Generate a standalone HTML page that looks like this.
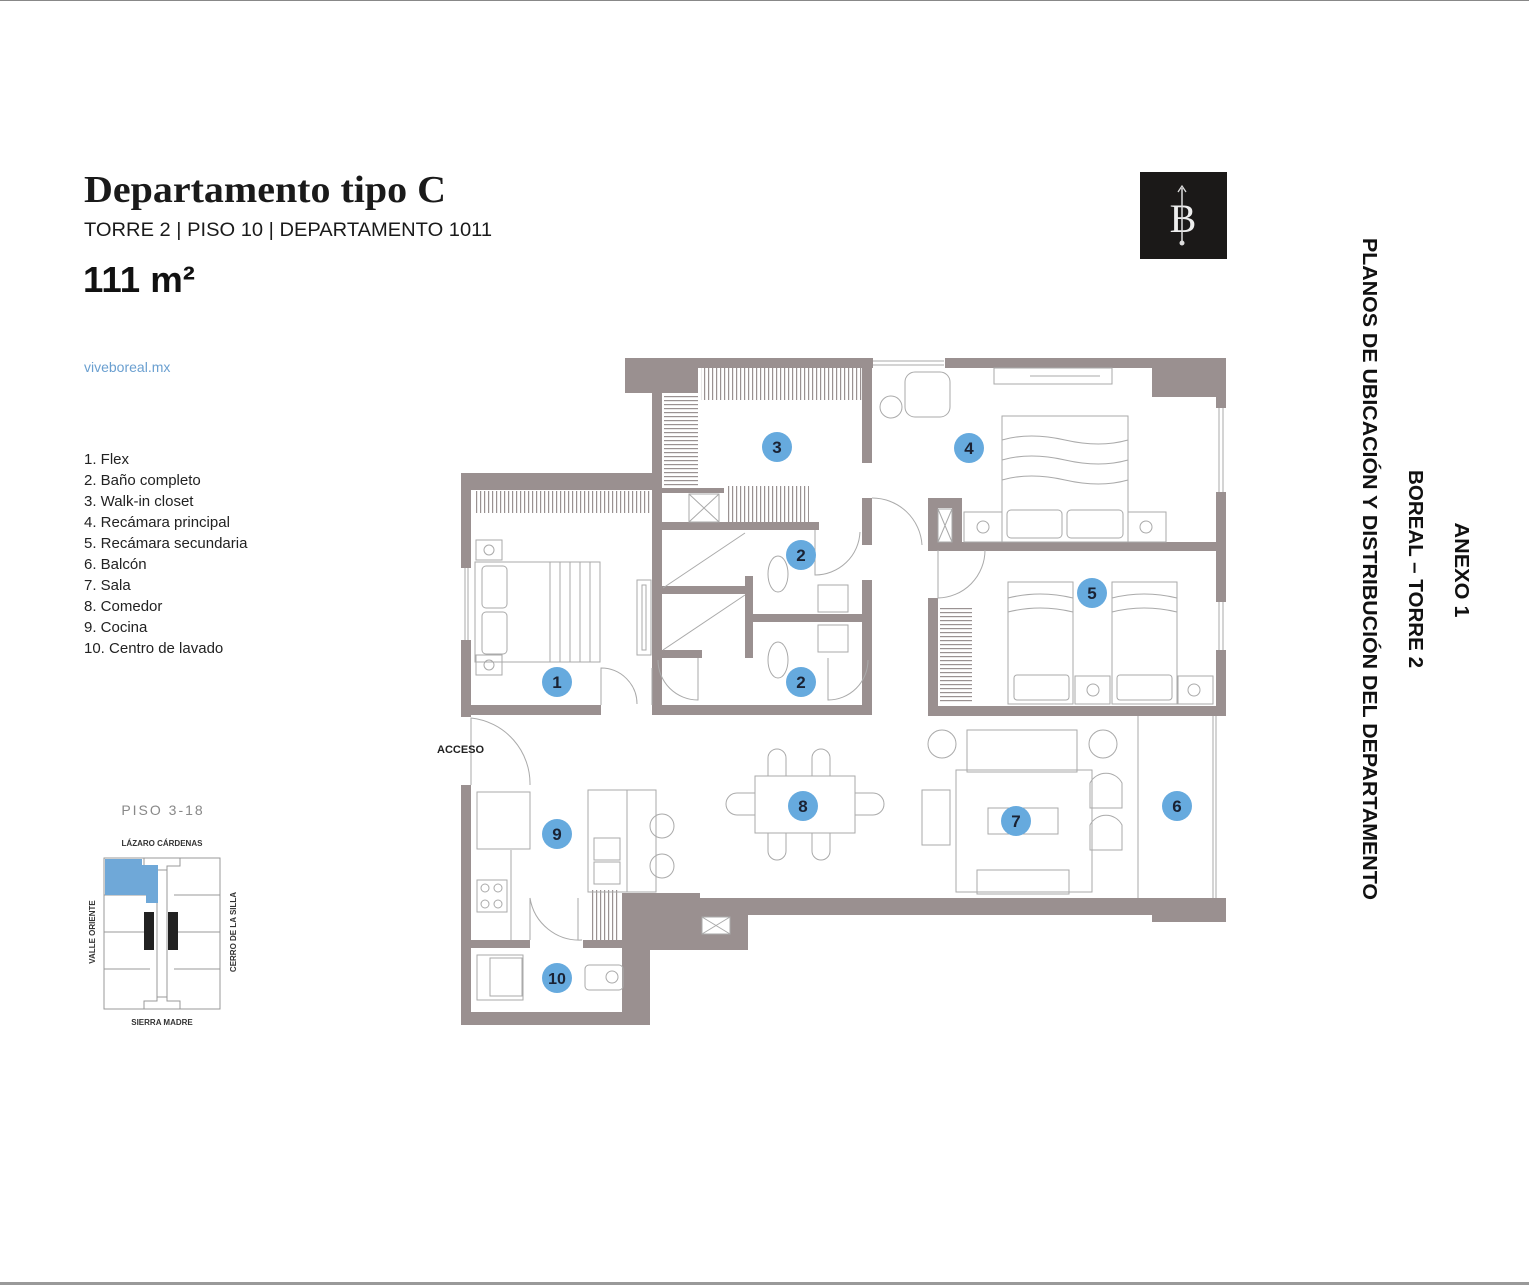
<!DOCTYPE html>
<html><head><meta charset="utf-8"><style>
html,body{margin:0;padding:0;background:#fff}
svg{display:block}
</style></head><body>
<svg width="1529" height="1285" viewBox="0 0 1529 1285" xmlns="http://www.w3.org/2000/svg" font-family="Liberation Sans, sans-serif">
<defs>
<pattern id="hatch" width="4" height="10" patternUnits="userSpaceOnUse"><rect width="4" height="10" fill="#fff"/><rect width="1.2" height="10" fill="#9a9292"/></pattern>
<pattern id="hatchH" width="10" height="4" patternUnits="userSpaceOnUse"><rect width="10" height="4" fill="#fff"/><rect width="10" height="1.2" fill="#9a9292"/></pattern>
</defs>
<rect x="0" y="0" width="1529" height="1" fill="#888"/>
<rect x="0" y="1282" width="1529" height="3" fill="#999"/>

<text x="84" y="202" font-family="Liberation Serif, serif" font-weight="bold" font-size="38" fill="#1a1a1a" textLength="362" lengthAdjust="spacingAndGlyphs">Departamento tipo C</text>
<text x="84" y="236" font-size="19" fill="#1a1a1a" textLength="408" lengthAdjust="spacingAndGlyphs">TORRE 2 | PISO 10 | DEPARTAMENTO 1011</text>
<text x="83" y="292" font-size="36" font-weight="bold" fill="#111" textLength="112" lengthAdjust="spacingAndGlyphs">111 m²</text>
<text x="84" y="372" font-size="14" fill="#6a9fd0">viveboreal.mx</text>
<g font-size="15" fill="#222">
<text x="84" y="464">1. Flex</text>
<text x="84" y="485">2. Baño completo</text>
<text x="84" y="506">3. Walk-in closet</text>
<text x="84" y="527">4. Recámara principal</text>
<text x="84" y="548">5. Recámara secundaria</text>
<text x="84" y="569">6. Balcón</text>
<text x="84" y="590">7. Sala</text>
<text x="84" y="611">8. Comedor</text>
<text x="84" y="632">9. Cocina</text>
<text x="84" y="653">10. Centro de lavado</text>
</g>

<rect x="1140" y="172" width="87" height="87" fill="#1b1918"/>
<text x="1183" y="232" text-anchor="middle" font-family="Liberation Serif, serif" font-size="40" fill="#eee">B</text>
<line x1="1182" y1="188" x2="1182" y2="243" stroke="#ddd" stroke-width="1.5"/>
<circle cx="1182" cy="243" r="2.5" fill="#ddd"/>
<path d="M1178 192 L1182 186 L1186 192" fill="none" stroke="#ddd" stroke-width="1.3"/>

<g font-weight="bold" font-size="20" fill="#111">
<text transform="translate(1455,570) rotate(90)" text-anchor="middle" textLength="95" lengthAdjust="spacingAndGlyphs">ANEXO 1</text>
<text transform="translate(1409,569) rotate(90)" text-anchor="middle" textLength="198" lengthAdjust="spacingAndGlyphs">BOREAL – TORRE 2</text>
<text transform="translate(1363,569) rotate(90)" text-anchor="middle" textLength="662" lengthAdjust="spacingAndGlyphs">PLANOS DE UBICACIÓN Y DISTRIBUCIÓN DEL DEPARTAMENTO</text>
</g>

<text x="163" y="815" text-anchor="middle" font-size="14" fill="#888" letter-spacing="2">PISO 3-18</text>
<text x="162" y="846" text-anchor="middle" font-size="8" font-weight="bold" fill="#333">LÁZARO CÁRDENAS</text>
<text x="162" y="1025" text-anchor="middle" font-size="8" font-weight="bold" fill="#333">SIERRA MADRE</text>
<text transform="translate(95,932) rotate(-90)" text-anchor="middle" font-size="8" font-weight="bold" fill="#333">VALLE ORIENTE</text>
<text transform="translate(236,932) rotate(-90)" text-anchor="middle" font-size="8" font-weight="bold" fill="#333">CERRO DE LA SILLA</text>
<g fill="none" stroke="#999" stroke-width="1">
<rect x="104" y="858" width="116" height="151"/>
<path d="M104 895H150M104 932H150M104 969H150M174 895H220M174 932H220M174 969H220"/>
<path d="M144 858V866H157V870H167V866H180V858M144 1009V1001H157V997H167V1001H180V1009"/>
<path d="M157 870V1000M167 870V1000"/>
</g>
<path d="M105 859H142V865H158V903H146V895H105Z" fill="#6fa8d8"/>
<rect x="144" y="912" width="10" height="38" fill="#222"/>
<rect x="168" y="912" width="10" height="38" fill="#222"/>

<g fill="#9a9090">
<rect x="625" y="358" width="248" height="10"/>
<rect x="625" y="358" width="73" height="35"/>
<rect x="945" y="358" width="281" height="10"/>
<rect x="1152" y="358" width="74" height="39"/>
<rect x="1216" y="358" width="10" height="50"/>
<rect x="1216" y="492" width="10" height="110"/>
<rect x="1216" y="650" width="10" height="65"/>
<rect x="652" y="393" width="10" height="315"/>
<rect x="461" y="473" width="200" height="17"/>
<rect x="461" y="473" width="10" height="95"/>
<rect x="461" y="640" width="10" height="77"/>
<rect x="461" y="705" width="140" height="10"/>
<rect x="652" y="705" width="218" height="10"/>
<rect x="862" y="358" width="10" height="105"/>
<rect x="862" y="498" width="10" height="47"/>
<rect x="862" y="580" width="10" height="135"/>
<rect x="662" y="488" width="62" height="5"/>
<rect x="654" y="522" width="165" height="8"/>
<rect x="654" y="586" width="92" height="8"/>
<rect x="745" y="576" width="8" height="82"/>
<rect x="753" y="614" width="112" height="8"/>
<rect x="654" y="650" width="48" height="8"/>
<rect x="928" y="498" width="34" height="10"/>
<rect x="928" y="498" width="10" height="52"/>
<rect x="952" y="498" width="10" height="50"/>
<rect x="928" y="542" width="298" height="9"/>
<rect x="928" y="598" width="10" height="117"/>
<rect x="928" y="706" width="298" height="10"/>
<rect x="461" y="785" width="10" height="240"/>
<rect x="461" y="1012" width="189" height="13"/>
<rect x="622" y="893" width="28" height="132"/>
<rect x="622" y="893" width="78" height="57"/>
<rect x="700" y="898" width="526" height="17"/>
<rect x="700" y="912" width="48" height="38"/>
<rect x="1152" y="898" width="74" height="24"/>
<rect x="471" y="940" width="59" height="8"/>
<rect x="583" y="940" width="40" height="8"/>
</g>
<rect x="701" y="368" width="161" height="32" fill="url(#hatch)"/>
<rect x="664" y="396" width="34" height="90" fill="url(#hatchH)"/>
<rect x="474" y="491" width="178" height="22" fill="url(#hatch)"/>
<rect x="727" y="486" width="82" height="36" fill="url(#hatch)"/>
<rect x="940" y="606" width="32" height="98" fill="url(#hatchH)"/>
<rect x="590" y="890" width="30" height="50" fill="url(#hatch)"/>

<g fill="none" stroke="#aaa" stroke-width="1">
<rect x="689" y="494" width="30" height="28"/><path d="M689 494L719 522M719 494L689 522"/>
<rect x="938" y="509" width="14" height="33"/><path d="M938 509L952 542M952 509L938 542"/>
<rect x="702" y="917" width="28" height="17" fill="#fff"/><path d="M702 917L730 934M730 917L702 934"/>
<path d="M601 705V668A36 36 0 0 1 637 704"/>
<path d="M652 705V668"/>
<path d="M698 658V700A40 40 0 0 1 658 660"/>
<path d="M828 658V700A40 40 0 0 0 868 660"/>
<path d="M815 530V575A45 45 0 0 0 860 532"/>
<path d="M872 498A50 50 0 0 1 922 545"/>
<path d="M938 550V598A48 48 0 0 0 985 550"/>
<path d="M471 785V718A66 66 0 0 1 530 785"/>
<path d="M530 940V898A50 50 0 0 0 582 940"/>
<path d="M578 940V898"/>
<path d="M873 361H944M873 365H944"/>
<path d="M1219 408V492M1223 408V492M1219 602V650M1223 602V650"/>
<path d="M465 568V640M468 568V640"/>
<path d="M1138 716V898M1216 716V898M1213 716V898"/>
<rect x="475" y="562" width="125" height="100"/>
<rect x="482" y="566" width="25" height="42" rx="4"/><rect x="482" y="612" width="25" height="42" rx="4"/>
<path d="M550 562V662M560 562V662M570 562V662M580 562V662M590 562V662"/>
<rect x="476" y="540" width="26" height="20"/><circle cx="489" cy="550" r="5"/>
<rect x="476" y="655" width="26" height="20"/><circle cx="489" cy="665" r="5"/>
<rect x="637" y="580" width="14" height="75"/><rect x="642" y="585" width="4" height="65"/>
<path d="M663 588L745 533M663 650L745 595"/>
<ellipse cx="778" cy="574" rx="10" ry="18"/><ellipse cx="778" cy="660" rx="10" ry="18"/>
<rect x="818" y="585" width="30" height="27"/><rect x="818" y="625" width="30" height="27"/>
<rect x="1002" y="416" width="126" height="126"/>
<path d="M1002 440Q1030 432 1065 440T1128 440M1002 460Q1030 452 1065 460T1128 460M1002 480Q1030 472 1065 480T1128 480"/>
<rect x="1007" y="510" width="55" height="28" rx="4"/><rect x="1067" y="510" width="56" height="28" rx="4"/>
<rect x="964" y="512" width="38" height="30"/><circle cx="983" cy="527" r="6"/>
<rect x="1128" y="512" width="38" height="30"/><circle cx="1146" cy="527" r="6"/>
<rect x="994" y="368" width="118" height="16"/><path d="M1030 376H1100"/>
<rect x="905" y="372" width="45" height="45" rx="10"/>
<circle cx="891" cy="407" r="11"/>
<rect x="1008" y="582" width="65" height="122"/><rect x="1112" y="582" width="65" height="122"/>
<path d="M1008 598Q1040 590 1073 598M1008 612Q1040 604 1073 612M1112 598Q1144 590 1177 598M1112 612Q1144 604 1177 612"/>
<rect x="1014" y="675" width="55" height="25" rx="3"/><rect x="1117" y="675" width="55" height="25" rx="3"/>
<rect x="1075" y="676" width="35" height="28"/><circle cx="1093" cy="690" r="6"/>
<rect x="1178" y="676" width="35" height="28"/><circle cx="1194" cy="690" r="6"/>
<rect x="956" y="770" width="136" height="122"/>
<rect x="967" y="730" width="110" height="42"/>
<circle cx="942" cy="744" r="14"/><circle cx="1103" cy="744" r="14"/>
<rect x="922" y="790" width="28" height="55"/>
<rect x="988" y="808" width="70" height="26"/>
<rect x="977" y="870" width="92" height="24"/>
<path d="M1090 783a18 18 0 0 1 32 0v25h-32zM1090 825a18 18 0 0 1 32 0v25h-32z"/>
<rect x="755" y="776" width="100" height="57"/>
<path d="M768 776v-18a9 9 0 0 1 18 0v18M812 776v-18a9 9 0 0 1 18 0v18M768 833v18a9 9 0 0 0 18 0v-18M812 833v18a9 9 0 0 0 18 0v-18M755 793h-18a9 9 0 0 0 0 22h18M855 793h18a9 9 0 0 1 0 22h-18"/>
<rect x="477" y="792" width="53" height="57"/>
<rect x="588" y="790" width="68" height="102"/><path d="M627 790V892"/>
<rect x="594" y="838" width="26" height="22"/><rect x="594" y="862" width="26" height="22"/>
<circle cx="662" cy="826" r="12"/><circle cx="662" cy="866" r="12"/>
<rect x="477" y="880" width="30" height="32"/>
<circle cx="485" cy="888" r="4"/><circle cx="498" cy="888" r="4"/><circle cx="485" cy="904" r="4"/><circle cx="498" cy="904" r="4"/>
<path d="M511 850V940"/>
<rect x="477" y="955" width="46" height="45"/><rect x="490" y="958" width="32" height="38"/>
<rect x="585" y="965" width="38" height="25" rx="4"/><circle cx="612" cy="977" r="6"/>
</g>
<text x="437" y="753" font-size="11" font-weight="bold" fill="#222">ACCESO</text>

<g font-size="17" font-weight="bold" fill="#1a2233" text-anchor="middle">
<g fill="#66aade">
<circle cx="557" cy="682" r="15"/><circle cx="801" cy="555" r="15"/><circle cx="801" cy="682" r="15"/>
<circle cx="777" cy="447" r="15"/><circle cx="969" cy="448" r="15"/><circle cx="1092" cy="593" r="15"/>
<circle cx="1177" cy="806" r="15"/><circle cx="1016" cy="821" r="15"/><circle cx="803" cy="806" r="15"/>
<circle cx="557" cy="834" r="15"/><circle cx="557" cy="978" r="15"/>
</g>
<text x="557" y="688">1</text><text x="801" y="561">2</text><text x="801" y="688">2</text>
<text x="777" y="453">3</text><text x="969" y="454">4</text><text x="1092" y="599">5</text>
<text x="1177" y="812">6</text><text x="1016" y="827">7</text><text x="803" y="812">8</text>
<text x="557" y="840">9</text><text x="557" y="984" font-size="16">10</text>
</g>
</svg>
</body></html>
